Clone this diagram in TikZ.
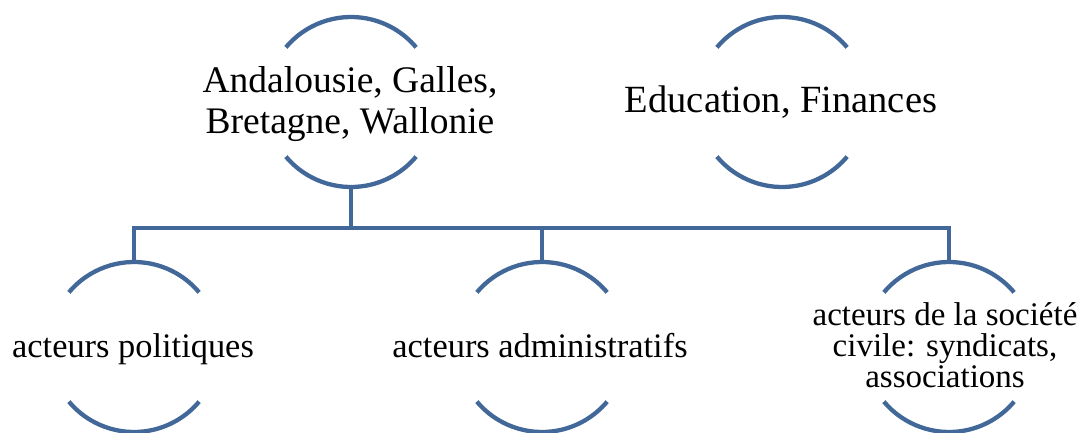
\documentclass[tikz,border=0pt]{standalone}
\usepackage{fontspec}
\setmainfont{Liberation Serif}
\definecolor{ringblue}{RGB}{65,104,153}
\tikzset{
  ring/.style={circle, minimum size=170pt, inner sep=0pt, draw=none},
  arcline/.style={draw=ringblue, line width=4.3pt},
  conn/.style={draw=ringblue, line width=4.3pt},
  txt/.style={align=center, inner sep=0pt, text=black, anchor=base},
}
\newcommand{\ringarcs}[1]{%
  \path[arcline] ([shift={(140:85pt)}]#1.center) arc[start angle=140, end angle=40, radius=85pt];
  \path[arcline] ([shift={(220:85pt)}]#1.center) arc[start angle=220, end angle=320, radius=85pt];
}
\begin{document}
\begin{tikzpicture}[x=1pt, y=-1pt]
\useasboundingbox (0,0) rectangle (1091,433);
% rings
\node[ring] (A) at (351,102) {};
\node[ring] (B) at (782,102) {};
\node[ring] (P) at (134,347) {};
\node[ring] (M) at (542,347) {};
\node[ring] (S) at (949,347) {};
\ringarcs{A}
\ringarcs{B}
\ringarcs{P}
\ringarcs{M}
\ringarcs{S}
% connectors
\coordinate (bus) at (351,228);
\draw[conn] (A.south) -- (bus);
\draw[conn] (P.north) |- (bus);
\draw[conn] (M.north) |- (bus);
\draw[conn] (S.north) |- (bus);
% texts
\node[txt, font=\fontsize{37.5}{40}\selectfont] (tA) at (350,133) {Andalousie, Galles,\\Bretagne, Wallonie};
\node[txt, font=\fontsize{38.5}{40}\selectfont] (tB) at (781,113) {Education, Finances};
\node[txt, font=\fontsize{34.4}{40}\selectfont] (tP) at (133,357) {acteurs politiques};
\node[txt, font=\fontsize{34.4}{40}\selectfont] (tM) at (540,357) {acteurs administratifs};
\node[txt, font=\fontsize{33}{31}\selectfont] (tS) at (945,387) {acteurs de la société\\civile: syndicats,\\associations};
\end{tikzpicture}
\end{document}
